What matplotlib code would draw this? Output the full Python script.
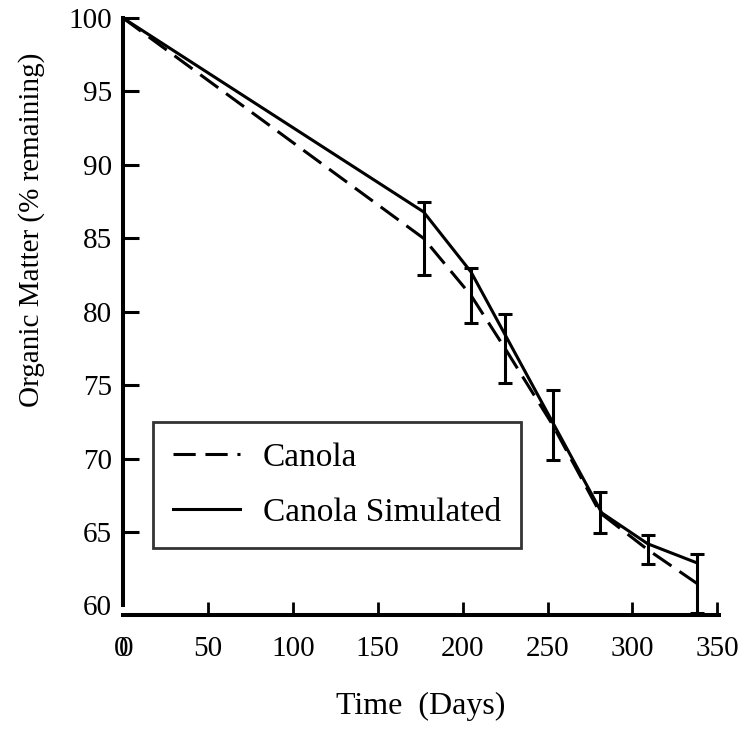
"""
Разложение органического вещества: канола, наблюдение и модель
"""
import matplotlib
matplotlib.use('Agg')
import matplotlib.pyplot as plt

# наблюдения (средние и полуширина ошибки)
obs_days = [0, 177, 205, 225, 253, 281, 309, 338]
obs_vals = [100, 85.0, 81.1, 77.5, 72.3, 66.3, 63.8, 61.5]
err_days = [177, 205, 225, 253, 281, 309, 338]
err_vals = [85.0, 81.1, 77.5, 72.3, 66.3, 63.8, 61.5]
err_half = [2.5, 1.9, 2.35, 2.4, 1.4, 1.0, 2.0]

# модель
sim_days = [0, 177, 205, 282, 309, 338]
sim_vals = [100, 86.8, 82.7, 66.3, 64.2, 62.9]

x_ticks = [0, 50, 100, 150, 200, 250, 300, 350]
x_labels = [r'$\mathrm{0\!\!0}$', '50', '100', '150', '200', '250', '300', '350']
y_ticks = [60, 65, 70, 75, 80, 85, 90, 95, 100]

plt.rcParams['font.family'] = ['Liberation Serif', 'DejaVu Serif']
plt.rcParams['mathtext.fontset'] = 'custom'
plt.rcParams['mathtext.rm'] = 'Liberation Serif'
plt.rcParams['lines.scale_dashes'] = False

fig = plt.figure(figsize=(7.49, 7.33), dpi=100)
ax = fig.add_axes([123 / 749, 118 / 733, 596 / 749, 597 / 733])

ax.plot(obs_days, obs_vals, color='black', lw=2.2, dashes=(16, 7), label='Canola')
ax.plot(sim_days, sim_vals, color='black', lw=2.2, label='Canola Simulated')
ax.errorbar(err_days, err_vals, yerr=err_half, fmt='none', ecolor='black',
            elinewidth=2.2, capsize=5, capthick=2.2)

ax.set_xlim(0, 351)
ax.set_ylim(59.35, 100)
ax.set_xticks(x_ticks)
ax.set_xticklabels(x_labels)
ax.set_yticks(y_ticks)

for s in ['top', 'right']:
    ax.spines[s].set_visible(False)
ax.spines['left'].set_linewidth(2.9)
ax.spines['bottom'].set_linewidth(2.9)
ax.spines['left'].set_bounds(60, 100)

ax.tick_params(axis='y', direction='in', length=11.5, width=2.2, pad=8, labelsize=21)
ax.tick_params(axis='x', direction='in', length=9.5, width=2, pad=15, labelsize=21)
ax.yaxis.get_major_ticks()[0].tick1line.set_visible(False)
ax.xaxis.get_major_ticks()[0].tick1line.set_visible(False)

ax.set_xlabel('Time  (Days)', fontsize=23, labelpad=22)
ax.set_ylabel('Organic Matter (% remaining)', fontsize=21)
ax.yaxis.set_label_coords(-0.131, 0.646)

leg = ax.legend(loc='upper left', bbox_to_anchor=(153 / 749, 1 - 422 / 733),
                bbox_transform=fig.transFigure, fontsize=24, frameon=True,
                fancybox=False, handlelength=2.0, handletextpad=0.7,
                borderpad=0.6, labelspacing=0.75, borderaxespad=0)
leg.get_frame().set_edgecolor('black')
leg.get_frame().set_linewidth(2)

fig.savefig('out.png', dpi=100)
